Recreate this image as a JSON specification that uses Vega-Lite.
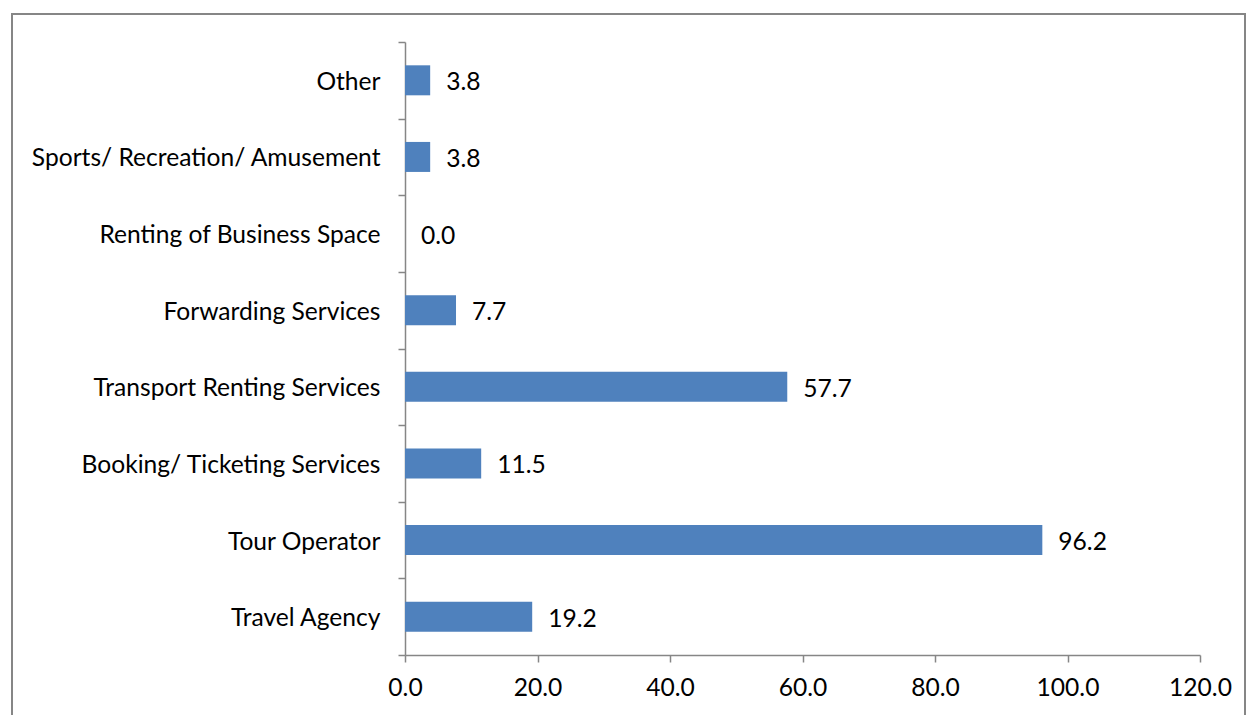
{
  "$schema": "https://vega.github.io/schema/vega-lite/v6.json",
  "autosize": {"type": "none"},
  "padding": {"left": 12, "top": 14, "right": 4, "bottom": 0},
  "width": 1233,
  "height": 701,
  "background": "white",
  "config": {
    "view": {"stroke": "#868686", "strokeWidth": 2, "strokeDash": [1934, 1233, 701]},
    "axis": {
      "labelFont": "Lato",
      "labelFontSize": 24.6,
      "labelColor": "#000000",
      "domainColor": "#868686",
      "domainWidth": 1.5,
      "tickColor": "#868686",
      "tickWidth": 1.5,
      "tickSize": 7,
      "grid": false,
      "title": null
    }
  },
  "data": {
    "values": [
      {"category": "Other", "value": 3.8},
      {"category": "Sports/ Recreation/ Amusement", "value": 3.8},
      {"category": "Renting of Business Space", "value": 0.0},
      {"category": "Forwarding Services", "value": 7.7},
      {"category": "Transport Renting Services", "value": 57.7},
      {"category": "Booking/ Ticketing Services", "value": 11.5},
      {"category": "Tour Operator ", "value": 96.2},
      {"category": "Travel Agency", "value": 19.2}
    ]
  },
  "encoding": {
    "y": {
      "field": "category",
      "type": "nominal",
      "sort": null,
      "scale": {"range": [28, 641], "paddingInner": 0, "paddingOuter": 0},
      "axis": {"offset": -393, "tickBand": "extent", "labelPadding": 18, "labelLimit": 600, "labelOffset": 2}
    },
    "x": {
      "field": "value",
      "type": "quantitative",
      "scale": {"domain": [0, 120], "range": [393, 1188], "nice": false, "zero": true},
      "axis": {"offset": -60, "values": [0, 20, 40, 60, 80, 100, 120], "format": ".1f", "labelPadding": 14, "labelFlush": false}
    }
  },
  "layer": [
    {"mark": {"type": "bar", "color": "#4F81BD", "height": {"band": 0.3915}}},
    {
      "mark": {"type": "text", "align": "left", "baseline": "middle", "dx": 16, "dy": 3, "font": "Lato", "fontSize": 24.6, "color": "#000000"},
      "encoding": {"text": {"field": "value", "type": "quantitative", "format": ".1f"}}
    }
  ]
}
